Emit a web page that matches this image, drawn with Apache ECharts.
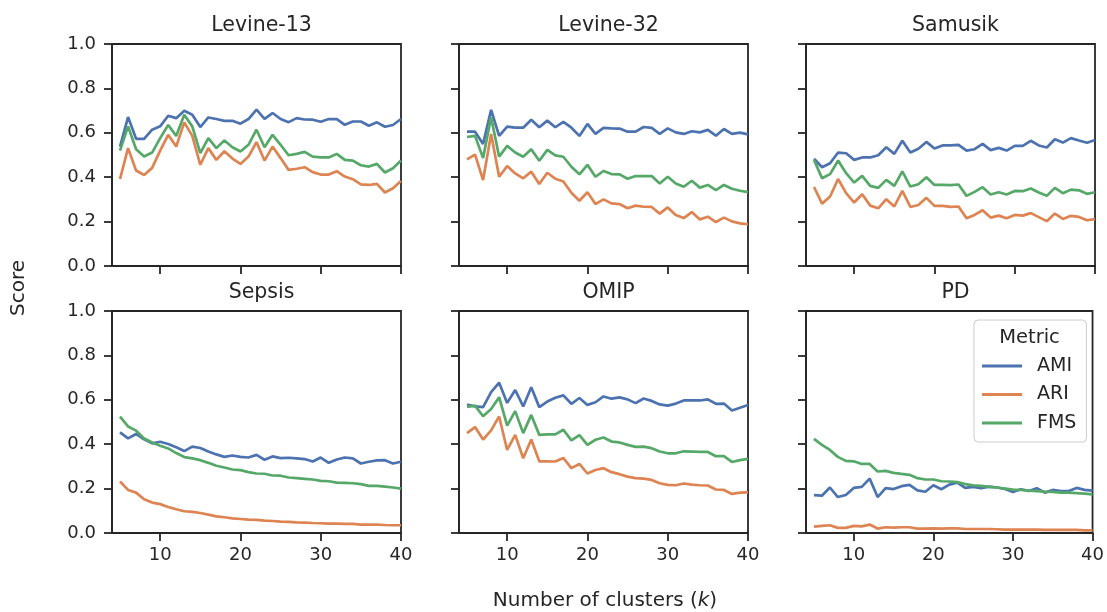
<!DOCTYPE html>
<html>
<head>
<meta charset="utf-8">
<script src="https://cdn.jsdelivr.net/npm/echarts@6/dist/echarts.min.js"></script>
<style>
  html, body { margin: 0; padding: 0; background: #ffffff; }
  #chart { width: 1107px; height: 612px; }
</style>
</head>
<body>
<div id="chart"></div>
<script>
// Number of clusters evaluated
const kValues = [5, 6, 7, 8, 9, 10, 11, 12, 13, 14, 15, 16, 17, 18, 19, 20, 21, 22, 23, 24,
                 25, 26, 27, 28, 29, 30, 31, 32, 33, 34, 35, 36, 37, 38, 39, 40];
const xTicks = [10, 20, 30, 40];
const yTicks = [0.0, 0.2, 0.4, 0.6, 0.8, 1.0];

const panelTitles = ['Levine-13', 'Levine-32', 'Samusik', 'Sepsis', 'OMIP', 'PD'];
const metricNames = ['AMI', 'ARI', 'FMS'];
const metricColors = ['#4C72B0', '#DD8452', '#55A868'];

// Levine-13
const levine13Ami = [0.538, 0.671, 0.573, 0.573, 0.614, 0.629, 0.677, 0.666, 0.699, 0.681, 0.626, 0.669, 0.662, 0.654, 0.654, 0.641, 0.662, 0.704,
                     0.663, 0.689, 0.662, 0.648, 0.666, 0.660, 0.659, 0.650, 0.662, 0.662, 0.636, 0.651, 0.651, 0.632, 0.647, 0.627, 0.635, 0.662];
const levine13Ari = [0.392, 0.531, 0.430, 0.410, 0.442, 0.520, 0.591, 0.538, 0.647, 0.586, 0.456, 0.531, 0.478, 0.517, 0.484, 0.460, 0.493, 0.558,
                     0.475, 0.538, 0.486, 0.433, 0.438, 0.445, 0.423, 0.412, 0.412, 0.427, 0.403, 0.391, 0.368, 0.365, 0.370, 0.331, 0.350, 0.383];
const levine13Fms = [0.520, 0.629, 0.526, 0.493, 0.511, 0.576, 0.635, 0.586, 0.681, 0.629, 0.508, 0.576, 0.531, 0.565, 0.535, 0.516, 0.546, 0.614,
                     0.535, 0.591, 0.546, 0.499, 0.505, 0.514, 0.493, 0.489, 0.489, 0.505, 0.478, 0.475, 0.454, 0.448, 0.460, 0.421, 0.440, 0.475];

// Levine-32
const levine32Ami = [0.605, 0.605, 0.550, 0.703, 0.586, 0.628, 0.623, 0.623, 0.659, 0.625, 0.655, 0.625, 0.649, 0.623, 0.586, 0.640, 0.595, 0.622,
                     0.620, 0.619, 0.605, 0.605, 0.626, 0.622, 0.595, 0.620, 0.602, 0.595, 0.607, 0.602, 0.613, 0.587, 0.617, 0.595, 0.601, 0.593];
const levine32Ari = [0.480, 0.502, 0.387, 0.595, 0.402, 0.450, 0.417, 0.395, 0.425, 0.369, 0.420, 0.393, 0.381, 0.330, 0.294, 0.332, 0.279, 0.300,
                     0.282, 0.279, 0.260, 0.272, 0.267, 0.266, 0.236, 0.264, 0.230, 0.216, 0.243, 0.210, 0.222, 0.198, 0.218, 0.201, 0.192, 0.188];
const levine32Fms = [0.581, 0.586, 0.486, 0.670, 0.492, 0.541, 0.511, 0.492, 0.526, 0.474, 0.523, 0.498, 0.492, 0.447, 0.413, 0.456, 0.402, 0.428,
                     0.414, 0.413, 0.393, 0.405, 0.405, 0.405, 0.372, 0.402, 0.372, 0.357, 0.384, 0.353, 0.365, 0.342, 0.365, 0.348, 0.339, 0.333];

// Samusik
const samusikAmi = [0.483, 0.445, 0.463, 0.511, 0.508, 0.478, 0.489, 0.489, 0.499, 0.535, 0.505, 0.564, 0.511, 0.528, 0.559, 0.529, 0.543, 0.543,
                    0.546, 0.520, 0.526, 0.550, 0.522, 0.532, 0.520, 0.541, 0.541, 0.564, 0.543, 0.534, 0.571, 0.556, 0.576, 0.565, 0.555, 0.568];
const samusikAri = [0.356, 0.281, 0.313, 0.392, 0.328, 0.286, 0.323, 0.272, 0.260, 0.301, 0.268, 0.338, 0.266, 0.275, 0.307, 0.271, 0.271, 0.266,
                    0.268, 0.215, 0.230, 0.251, 0.218, 0.227, 0.215, 0.230, 0.227, 0.238, 0.220, 0.202, 0.236, 0.212, 0.226, 0.221, 0.206, 0.211];
const samusikFms = [0.478, 0.395, 0.414, 0.475, 0.418, 0.376, 0.406, 0.361, 0.352, 0.388, 0.361, 0.426, 0.358, 0.368, 0.400, 0.365, 0.365, 0.364,
                    0.367, 0.316, 0.334, 0.355, 0.322, 0.332, 0.322, 0.338, 0.337, 0.349, 0.331, 0.316, 0.352, 0.328, 0.344, 0.341, 0.325, 0.332];

// Sepsis
const sepsisAmi = [0.453, 0.426, 0.446, 0.422, 0.404, 0.411, 0.401, 0.386, 0.369, 0.389, 0.383, 0.367, 0.354, 0.343, 0.349, 0.343, 0.340, 0.352,
                   0.330, 0.345, 0.337, 0.339, 0.336, 0.333, 0.322, 0.340, 0.316, 0.331, 0.340, 0.336, 0.313, 0.321, 0.327, 0.328, 0.313, 0.321];
const sepsisAri = [0.232, 0.194, 0.182, 0.152, 0.137, 0.130, 0.117, 0.107, 0.098, 0.095, 0.090, 0.083, 0.075, 0.071, 0.066, 0.063, 0.060, 0.059,
                   0.056, 0.054, 0.051, 0.050, 0.048, 0.047, 0.045, 0.044, 0.042, 0.042, 0.041, 0.041, 0.038, 0.038, 0.038, 0.036, 0.035, 0.035];
const sepsisFms = [0.524, 0.480, 0.461, 0.426, 0.408, 0.393, 0.381, 0.360, 0.342, 0.336, 0.328, 0.316, 0.303, 0.295, 0.286, 0.283, 0.274, 0.268,
                   0.267, 0.259, 0.258, 0.250, 0.247, 0.244, 0.241, 0.235, 0.233, 0.227, 0.226, 0.224, 0.220, 0.212, 0.212, 0.209, 0.205, 0.200];

// OMIP
const omipAmi = [0.579, 0.570, 0.567, 0.635, 0.677, 0.586, 0.644, 0.570, 0.657, 0.567, 0.592, 0.609, 0.620, 0.582, 0.608, 0.577, 0.589, 0.615,
                 0.605, 0.611, 0.602, 0.585, 0.606, 0.595, 0.579, 0.574, 0.583, 0.597, 0.597, 0.597, 0.602, 0.582, 0.583, 0.552, 0.564, 0.577];
const omipAri = [0.450, 0.477, 0.421, 0.462, 0.525, 0.374, 0.442, 0.337, 0.421, 0.323, 0.323, 0.322, 0.338, 0.292, 0.311, 0.268, 0.284, 0.292,
                 0.274, 0.265, 0.254, 0.247, 0.245, 0.239, 0.224, 0.217, 0.215, 0.223, 0.218, 0.215, 0.214, 0.196, 0.194, 0.176, 0.182, 0.183];
const omipFms = [0.568, 0.574, 0.526, 0.559, 0.612, 0.484, 0.549, 0.450, 0.532, 0.442, 0.444, 0.444, 0.465, 0.417, 0.441, 0.397, 0.420, 0.430,
                 0.412, 0.408, 0.397, 0.388, 0.389, 0.382, 0.367, 0.359, 0.359, 0.368, 0.367, 0.365, 0.365, 0.346, 0.346, 0.320, 0.328, 0.334];

// PD
const pdAmi = [0.171, 0.168, 0.205, 0.162, 0.171, 0.203, 0.208, 0.245, 0.162, 0.202, 0.198, 0.211, 0.217, 0.192, 0.186, 0.215, 0.197, 0.218,
               0.227, 0.203, 0.208, 0.202, 0.209, 0.205, 0.198, 0.185, 0.197, 0.189, 0.202, 0.182, 0.194, 0.189, 0.189, 0.203, 0.194, 0.191];
const pdAri = [0.029, 0.032, 0.035, 0.023, 0.023, 0.032, 0.030, 0.038, 0.020, 0.026, 0.024, 0.026, 0.026, 0.020, 0.020, 0.021, 0.020, 0.021,
               0.021, 0.018, 0.018, 0.018, 0.018, 0.017, 0.015, 0.015, 0.015, 0.015, 0.015, 0.014, 0.014, 0.014, 0.014, 0.014, 0.012, 0.012];
const pdFms = [0.424, 0.397, 0.374, 0.343, 0.325, 0.323, 0.311, 0.311, 0.277, 0.280, 0.271, 0.266, 0.262, 0.247, 0.241, 0.241, 0.233, 0.232,
               0.229, 0.220, 0.215, 0.212, 0.208, 0.205, 0.200, 0.195, 0.194, 0.191, 0.189, 0.186, 0.185, 0.182, 0.182, 0.180, 0.177, 0.174];

const panelSeries = [
  [levine13Ami, levine13Ari, levine13Fms],
  [levine32Ami, levine32Ari, levine32Fms],
  [samusikAmi, samusikAri, samusikFms],
  [sepsisAmi, sepsisAri, sepsisFms],
  [omipAmi, omipAri, omipFms],
  [pdAmi, pdAri, pdFms]
];

const INK = '#262626';
const FONT = '"DejaVu Sans", sans-serif';

// Plot rectangles for the 2 x 3 panel grid (shared x and y axes)
const colLeft = [112, 459, 806];
const rowTop = [44, 311];
const panelW = 289;
const panelH = 222;

const grids = [], xAxes = [], yAxes = [], titles = [], series = [];

panelTitles.forEach((name, i) => {
  const col = i % 3, row = Math.floor(i / 3);
  grids.push({
    left: colLeft[col], top: rowTop[row], width: panelW, height: panelH,
    show: true, borderColor: INK, borderWidth: 1.8, backgroundColor: 'transparent'
  });
  xAxes.push({
    type: 'value', gridIndex: i, min: 4, max: 40,
    splitLine: { show: false },
    axisLine: { show: true, onZero: false, lineStyle: { color: INK, width: 1.8 } },
    axisTick: { show: true, inside: false, length: 8, customValues: xTicks, lineStyle: { color: INK, width: 1.8 } },
    axisLabel: { show: row === 1, customValues: xTicks, margin: 13, color: INK, fontSize: 18, fontFamily: FONT }
  });
  yAxes.push({
    type: 'value', gridIndex: i, min: yTicks[0], max: yTicks[yTicks.length - 1], interval: 0.2,
    splitLine: { show: false },
    axisLine: { show: true, lineStyle: { color: INK, width: 1.8 } },
    axisTick: { show: true, inside: false, length: 8, lineStyle: { color: INK, width: 1.8 } },
    axisLabel: {
      show: col === 0, margin: 16, color: INK, fontSize: 18, fontFamily: FONT,
      formatter: v => v.toFixed(1)
    }
  });
  titles.push({
    text: name,
    left: colLeft[col] + panelW / 2, top: rowTop[row] - 34,
    textAlign: 'center',
    textStyle: { color: INK, fontSize: 20.5, fontWeight: 'normal', fontFamily: FONT }
  });
  panelSeries[i].forEach((values, m) => {
    series.push({
      name: metricNames[m], type: 'line',
      xAxisIndex: i, yAxisIndex: i,
      data: kValues.map((k, j) => [k, values[j]]),
      symbol: 'none', smooth: false,
      lineStyle: { color: metricColors[m], width: 2.7 },
      itemStyle: { color: metricColors[m] },
      emphasis: { disabled: true },
      z: 3
    });
  });
});

const chart = echarts.init(document.getElementById('chart'), null, { renderer: 'canvas' });
chart.setOption({
  backgroundColor: '#ffffff',
  animation: false,
  textStyle: { fontFamily: FONT },
  title: titles,
  grid: grids,
  xAxis: xAxes,
  yAxis: yAxes,
  series: series,
  legend: {
    data: metricNames,
    orient: 'vertical',
    left: 974, top: 320,
    padding: [35, 10, 8, 8],
    backgroundColor: 'rgba(255,255,255,0.8)',
    borderColor: '#cccccc', borderWidth: 1, borderRadius: 4,
    icon: 'rect', itemWidth: 40, itemHeight: 3, itemGap: 6.5,
    textStyle: { color: INK, fontSize: 19, fontFamily: FONT, lineHeight: 22, padding: [0, 0, 0, 10] },
    selectedMode: false,
    z: 10
  },
  graphic: [
    {
      type: 'text', z: 100,
      x: 1029.5, y: 338,
      style: { text: 'Metric', fill: INK, font: '19.5px "DejaVu Sans"', align: 'center', verticalAlign: 'middle' }
    },
    {
      type: 'text', z: 100,
      x: 19, y: 288, rotation: Math.PI / 2,
      style: { text: 'Score', fill: INK, font: '20px "DejaVu Sans"', align: 'center', verticalAlign: 'middle' }
    },
    {
      type: 'text', z: 100,
      x: 605, y: 601,
      style: {
        text: '{n|Number of clusters (}{k|k}{n|)}', fill: INK, align: 'center', verticalAlign: 'middle',
        rich: {
          n: { font: '20px "DejaVu Sans"', fill: INK },
          k: { font: 'italic 20px "DejaVu Sans"', fill: INK }
        }
      }
    }
  ]
});
</script>
</body>
</html>
